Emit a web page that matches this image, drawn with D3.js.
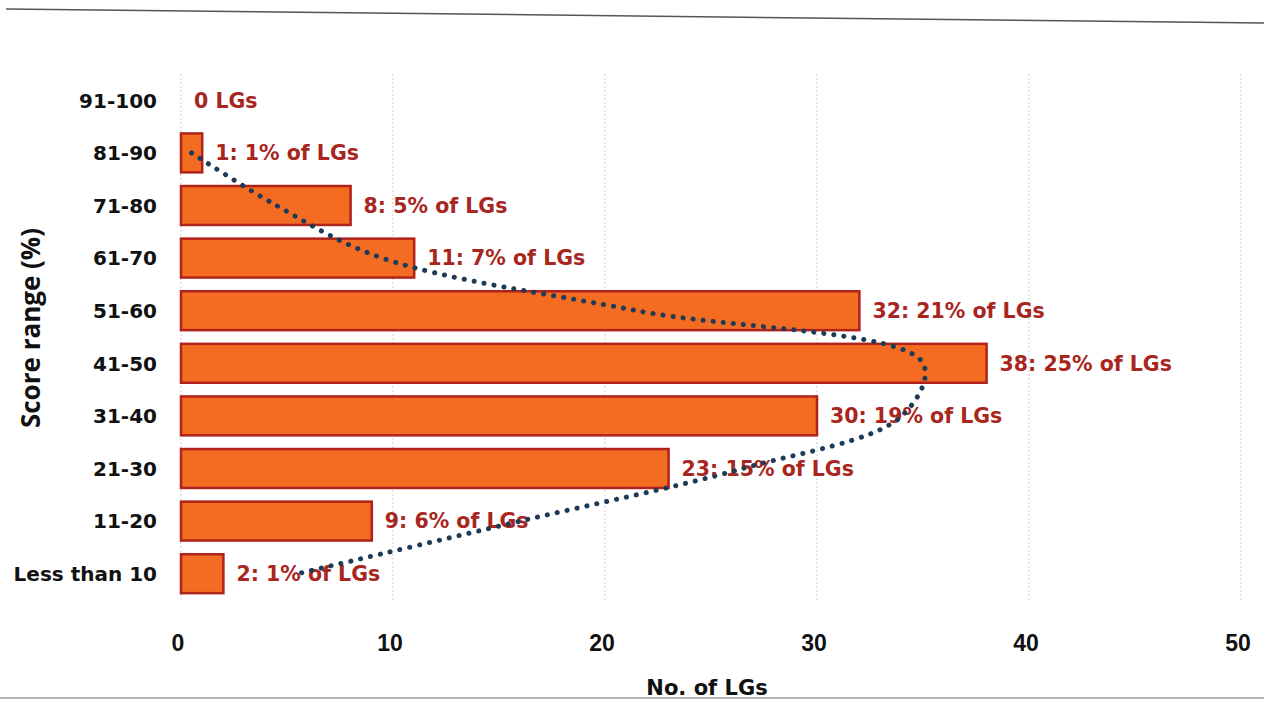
<!DOCTYPE html>
<html>
<head>
<meta charset="utf-8">
<script src="https://cdn.jsdelivr.net/npm/d3@7"></script>
<style>
  body { margin: 0; background: #fff; }
  svg { display: block; }
</style>
</head>
<body>
<div id="chart"></div>
<script>
// Score ranges, top to bottom as drawn
const categories = ["91-100", "81-90", "71-80", "61-70", "51-60", "41-50", "31-40", "21-30", "11-20", "Less than 10"];
// Number of LGs in each range
const counts = [0, 1, 8, 11, 32, 38, 30, 23, 9, 2];
// Share of LGs printed next to each bar
const shares = ["", "1%", "5%", "7%", "21%", "25%", "19%", "15%", "6%", "1%"];
// Dotted trend line (81-90 down to Less than 10)
const trendCategories = ["81-90", "71-80", "61-70", "51-60", "41-50", "31-40", "21-30", "11-20", "Less than 10"];
const trendValues = [0.5, 4.5, 9.5, 21.5, 35, 34, 26.5, 16, 5.5];
const xTicks = [0, 10, 20, 30, 40, 50];

const width = 1264, height = 706;
const margin = { top: 74, right: 23, bottom: 106, left: 181 };

const svg = d3.select("#chart").append("svg")
    .attr("width", width)
    .attr("height", height);

// scanned page edges
svg.append("line")
    .attr("x1", 6).attr("y1", 9).attr("x2", width).attr("y2", 23)
    .attr("stroke", "#555").attr("stroke-width", 1.5);
svg.append("line")
    .attr("x1", 0).attr("y1", 698).attr("x2", width).attr("y2", 698)
    .attr("stroke", "#9a9a9a").attr("stroke-width", 1.5);

const x = d3.scaleLinear()
    .domain([0, 50])
    .range([margin.left, width - margin.right]);

const y = d3.scaleBand()
    .domain(categories)
    .range([margin.top, height - margin.bottom])
    .paddingInner(0.26)
    .paddingOuter(0.13);

// vertical gridlines
svg.append("g")
    .selectAll("line")
    .data(xTicks)
    .join("line")
    .attr("x1", d => x(d)).attr("x2", d => x(d))
    .attr("y1", margin.top).attr("y2", height - margin.bottom)
    .attr("stroke", "#cfcfcf")
    .attr("stroke-width", 1)
    .attr("stroke-dasharray", "2,2");

// bars
svg.append("g")
    .selectAll("rect")
    .data(categories)
    .join("rect")
    .filter((d, i) => counts[i] > 0)
    .attr("x", x(0))
    .attr("y", d => y(d))
    .attr("width", d => x(counts[categories.indexOf(d)]) - x(0))
    .attr("height", y.bandwidth())
    .attr("fill", "#f36c21")
    .attr("stroke", "#b0231b")
    .attr("stroke-width", 2.5);

// value labels
svg.append("g")
    .selectAll("text")
    .data(categories)
    .join("text")
    .attr("x", (d, i) => x(counts[i]) + 13)
    .attr("y", d => y(d) + y.bandwidth() / 2)
    .attr("dy", "0.36em")
    .attr("font-family", "DejaVu Sans, sans-serif")
    .attr("font-size", 20.5)
    .attr("font-weight", "bold")
    .attr("fill", "#a8261d")
    .text((d, i) => counts[i] === 0 ? `${counts[i]} LGs` : `${counts[i]}: ${shares[i]} of LGs`);

// dotted trend line
const trendLine = d3.line()
    .x(d => x(d.value))
    .y(d => y(d.cat) + y.bandwidth() / 2)
    .curve(d3.curveCatmullRom);

svg.append("path")
    .datum(trendCategories.map((c, i) => ({ cat: c, value: trendValues[i] })))
    .attr("d", trendLine)
    .attr("fill", "none")
    .attr("stroke", "#1d3a57")
    .attr("stroke-width", 5)
    .attr("stroke-linecap", "round")
    .attr("stroke-dasharray", "0.1,10");

// category labels
svg.append("g")
    .selectAll("text")
    .data(categories)
    .join("text")
    .attr("x", 157)
    .attr("y", d => y(d) + y.bandwidth() / 2)
    .attr("dy", "0.36em")
    .attr("text-anchor", "end")
    .attr("font-family", "DejaVu Sans, sans-serif")
    .attr("font-size", 20)
    .attr("font-weight", "bold")
    .attr("fill", "#111")
    .text(d => d);

// x tick labels
svg.append("g")
    .selectAll("text")
    .data(xTicks)
    .join("text")
    .attr("x", d => x(d) - 3)
    .attr("y", 651)
    .attr("text-anchor", "middle")
    .attr("font-family", "Liberation Sans, Arial, sans-serif")
    .attr("font-size", 23)
    .attr("font-weight", "bold")
    .attr("fill", "#111")
    .text(d => d);

// axis titles
svg.append("text")
    .attr("x", 707)
    .attr("y", 695)
    .attr("text-anchor", "middle")
    .attr("font-family", "DejaVu Sans, sans-serif")
    .attr("font-size", 21)
    .attr("font-weight", "bold")
    .attr("fill", "#111")
    .text("No. of LGs");

svg.append("text")
    .attr("transform", `translate(40, 328) rotate(-90)`)
    .attr("text-anchor", "middle")
    .attr("font-family", "Open Sans, sans-serif")
    .attr("font-size", 26)
    .attr("font-weight", "bold")
    .attr("fill", "#111")
    .text("Score range (%)");
</script>
</body>
</html>
